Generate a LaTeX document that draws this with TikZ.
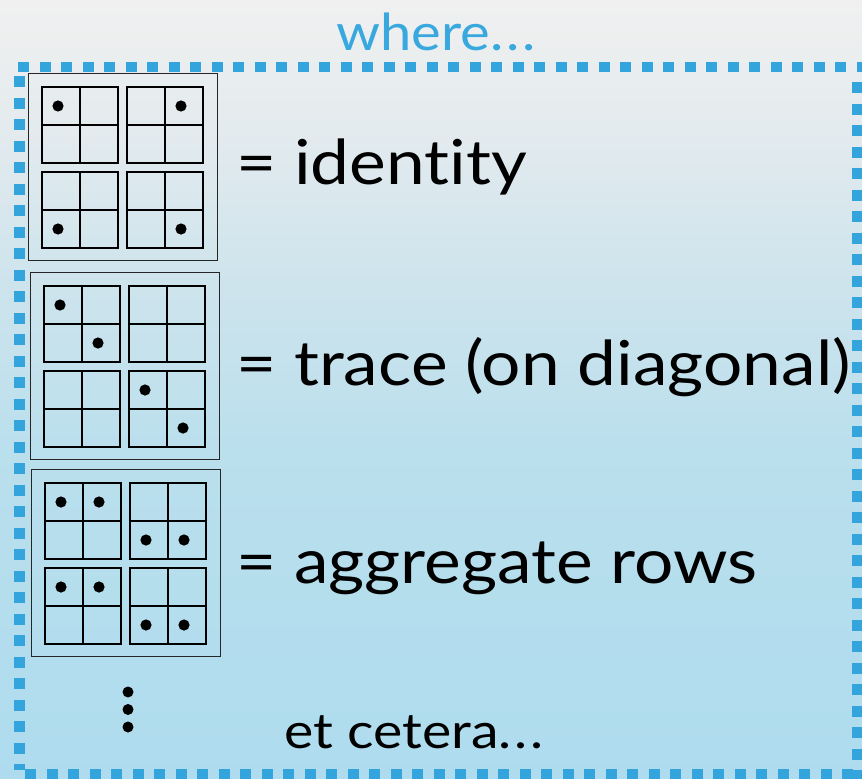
\documentclass[tikz,border=0pt]{standalone}
\usepackage{fontspec}
\setmainfont[Ligatures={NoCommon,NoContextual}]{Lato}

\definecolor{bgtop}{RGB}{240,240,240}
\definecolor{bgupper}{RGB}{228,235,238}
\definecolor{bgmid}{RGB}{206,228,237}
\definecolor{bglower}{RGB}{186,223,237}
\definecolor{bgbot}{RGB}{174,220,238}
\definecolor{borderblue}{RGB}{52,165,220}
\definecolor{titleblue}{RGB}{56,168,222}

\pgfdeclareverticalshading{panelshade}{100bp}{%
  color(0bp)=(bgbot); color(25bp)=(bgbot); color(46bp)=(bglower);
  color(57bp)=(bgmid); color(67bp)=(bgupper); color(75bp)=(bgtop);
  color(100bp)=(bgtop)}

\tikzset{
  frame/.style={draw=black!85, line width=1.4pt, minimum width=189pt,
    minimum height=187pt, anchor=north west, inner sep=0pt},
  cellgrid/.style={draw=black, line width=1.3pt},
  entry/.style={fill=black},
  border/.style={draw=borderblue, line width=10.5pt,
    dash pattern=on 11pt off 10.5pt},
  biglabel/.style={font=\fontsize{62}{70}\selectfont, anchor=base west,
    inner sep=0pt, xscale=1.12, transform shape},
  smalllabel/.style={font=\fontsize{49}{56}\selectfont, anchor=base west,
    inner sep=0pt, xscale=1.13, transform shape},
}

% three spaced periods
\newcommand\spaceddots{.\kern2.5pt.\kern2.5pt.}

% a 2x2 grid of cells whose top-left corner is (#1,#2)
\newcommand\cellsquare[2]{%
  \draw[cellgrid] (#1,#2) rectangle ++(76,76);
  \draw[cellgrid] (#1+38,#2) -- ++(0,76);
  \draw[cellgrid] (#1,#2+38) -- ++(76,0);
}

% a block of four 2x2 grids; #1 = node name, (#2,#3) = top-left corner,
% #4 = list of filled entries row/col in the 4x4 layout
\newcommand\matblock[4]{%
  \node[frame] (#1) at (#2,#3) {};
  \cellsquare{#2+14}{#3+14}
  \cellsquare{#2+99}{#3+14}
  \cellsquare{#2+14}{#3+99}
  \cellsquare{#2+99}{#3+99}
  \foreach \r/\c in {#4}{
    \pgfmathsetmacro\ex{#2+{30,68,115,153}[\c]}
    \pgfmathsetmacro\ey{#3+{33,71,118,156}[\r]}
    \fill[entry] (\ex,\ey) circle (5.6pt);
  }
}

\begin{document}
\begin{tikzpicture}[x=1pt,y=-1pt]
  \useasboundingbox (0,0) rectangle (862,779);
  \shade[shading=panelshade] (0,0) rectangle (862,779);

  % dotted frame
  \draw[border] (18,67) -- (862,67);
  \draw[border] (19.5,76) -- (19.5,770);
  \draw[border] (25,774.5) -- (862,774.5);
  \draw[border] (857,82) -- (857,779);

  \node[anchor=base west, inner sep=0pt, text=titleblue,
    font=\fontsize{51}{58}\selectfont, xscale=1.1, transform shape]
    (where) at (336,50) {where\spaceddots};

  \matblock{identity}{28}{73}{0/0,0/3,3/0,3/3}
  \matblock{trace}{30}{272}{0/0,1/1,2/2,3/3}
  \matblock{aggregate}{31}{469}{0/0,0/1,1/2,1/3,2/0,2/1,3/2,3/3}

  \node[biglabel] (idlabel) at (236,184) {= identity};
  \node[biglabel] (trlabel) at (236,385) {= trace (on diagonal)};
  \node[biglabel] (aglabel) at (236,583) {= aggregate rows};

  % vertical ellipsis below the blocks
  \fill (128,692) circle (5.5pt);
  \fill (128,709.5) circle (5.5pt);
  \fill (128,727) circle (5.5pt);

  \node[smalllabel] (etc) at (284,748) {et cetera\spaceddots};
\end{tikzpicture}
\end{document}
